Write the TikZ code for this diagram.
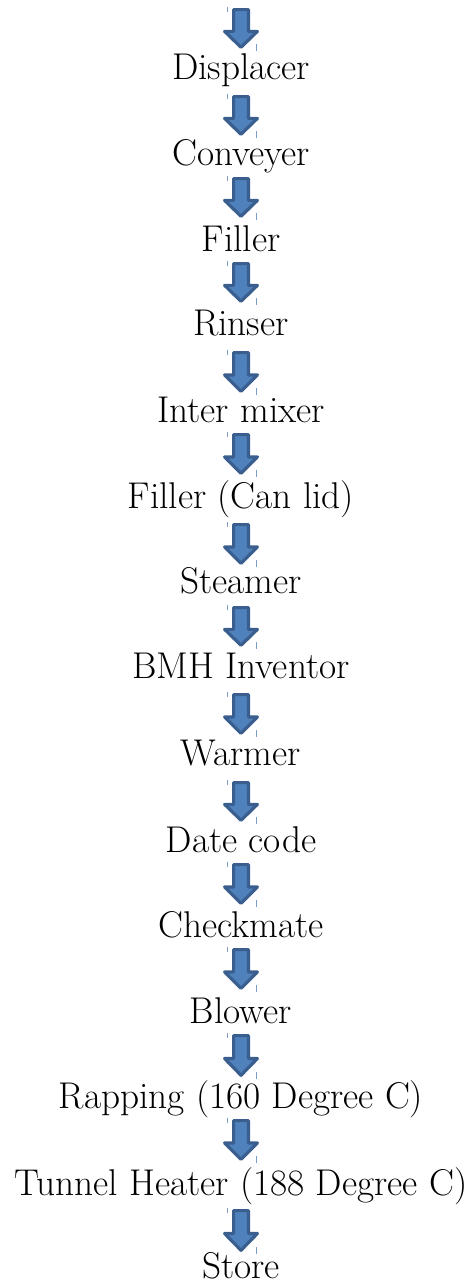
\documentclass[tikz,border=0pt]{standalone}
\definecolor{arrowfill}{HTML}{4F81BD}
\definecolor{arrowline}{HTML}{3A5F8E}
\definecolor{tickcol}{HTML}{7A9CC8}
\tikzset{
  lbl/.style={anchor=base, inner sep=0pt, font=\rmfamily\fontsize{37.25}{42}\selectfont},
  blockarrow/.style={draw=arrowline, fill=arrowfill, line width=3.2pt, line join=round},
  ticks/.style={draw=tickcol, line width=0.9pt}
}
\newcommand\flowarrow[3]{% #1 name, #2 top (px), #3 tip (px)
  \pgfmathsetmacro\myheadY{#2+0.57*(#3-#2)}
  \draw[blockarrow] (233.6,{-(#2+1.6)}) -- (248.4,{-(#2+1.6)}) -- (248.4,-\myheadY)
    -- (257.4,-\myheadY) -- (241,{-(#3-1.7)}) -- (224.6,-\myheadY) -- (233.6,-\myheadY) -- cycle;
  \coordinate (#1) at (241,{-(#2+#3)/2});
  \draw[ticks] (227,{-(#2-1)}) -- (227,{-(#2+4)});
  \draw[ticks] (256.5,{-(#3-5)}) -- (256.5,{-(#3+2)});
}
\begin{document}
\begin{tikzpicture}[x=1pt,y=1pt]
\useasboundingbox (0,0) rectangle (473,-1286);
\node[lbl] (n0) at (241,-79) {Displacer};
\node[lbl] (n1) at (241,-165) {Conveyer};
\node[lbl] (n2) at (241,-251) {Filler};
\node[lbl] (n3) at (241,-335) {Rinser};
\node[lbl] (n4) at (241,-422) {Inter mixer};
\node[lbl] (n5) at (241,-508) {Filler (Can lid)};
\node[lbl] (n6) at (241,-593) {Steamer};
\node[lbl] (n7) at (241,-678) {BMH Inventor};
\node[lbl] (n8) at (241,-765) {Warmer};
\node[lbl] (n9) at (241,-852) {Date code};
\node[lbl] (n10) at (241,-937) {Checkmate};
\node[lbl] (n11) at (241,-1023) {Blower};
\node[lbl] (n12) at (241,-1108) {Rapping (160 Degree C)};
\node[lbl] (n13) at (241,-1195) {Tunnel Heater (188 Degree C)};
\node[lbl] (n14) at (241,-1278) {Store};
\foreach \i/\t/\b in {0/8/49, 1/95/136, 2/177/218, 3/262/303, 4/351/393,
  5/433/475, 6/523/565, 7/606/647, 8/693/735, 9/781/822, 10/863/905,
  11/948/990, 12/1034/1077, 13/1119/1161, 14/1209/1252}{
  \flowarrow{a\i}{\t}{\b}
}
\end{tikzpicture}
\end{document}
